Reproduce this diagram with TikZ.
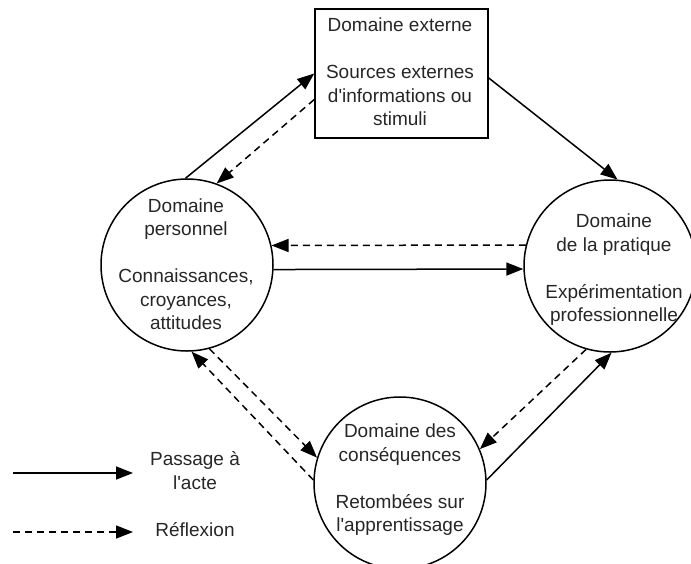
\documentclass[tikz,border=0pt]{standalone}
\usepackage{fontspec}
\setmainfont{Liberation Sans}[Ligatures=TeXOff]
\usetikzlibrary{arrows.meta,calc}
\begin{document}
\begin{tikzpicture}[x=1pt,y=-1pt,
  dom/.style={circle, draw, line width=1.5pt, minimum size=172pt, inner sep=0pt},
  lbl/.style={align=center, text=black!85, font=\fontsize{19}{23.5}\selectfont, inner sep=0pt},
  act/.style={line width=1.5pt, -{Triangle[length=17pt,width=13pt]}},
  refl/.style={act, dash pattern=on 7pt off 5pt},
]
\useasboundingbox (0,0) rectangle (691,563);

% domains
\node[draw, line width=1.5pt, minimum width=173pt, minimum height=129pt, inner sep=0pt] (ext) at (401.5,73.5) {};
\node[dom] (perso) at (187,265) {};
\node[dom] (prat) at (610,266) {};
\node[dom] (cons) at (400,483) {};

% texts
\node[lbl] (ext-t) at (400,72) {Domaine externe\\[23.5pt]Sources externes\\d'informations ou\\stimuli};
\node[lbl] (perso-t) at (186,264) {Domaine\\personnel\\[23.5pt]Connaissances,\\croyances,\\attitudes};
\node[lbl] (prat-t) at (614,270) {Domaine\\de la pratique\\[23.5pt]Expérimentation\\professionnelle};
\node[lbl] (cons-t) at (400,480) {Domaine des\\conséquences\\[23.5pt]Retombées sur\\l'apprentissage};

% connectors
\draw[act]  (perso.91) -- (ext.west);
\draw[refl] ($(ext.west)+(0,26)$) -- (perso.70);
\draw[act]  ($(ext.east)+(0,4.5)$) -- (prat.85);
\draw[refl] (prat.166) -- (perso.13);
\draw[act]  (perso.-3) -- (prat.182);
\draw[refl] (prat.-106) -- (cons.23.5);
\draw[act]  (cons.2) -- (prat.-89);
\draw[refl] (perso.-75) -- (cons.163);
\draw[refl] (cons.178) -- (perso.-87);

% legend
\coordinate (lg1a) at (13,473);
\coordinate (lg1b) at (133,473);
\coordinate (lg2a) at (13,532);
\coordinate (lg2b) at (133,532);
\draw[act]  (lg1a) -- (lg1b);
\draw[refl] (lg2a) -- (lg2b);
\node[lbl] (lg1-t) at (195,470.5) {Passage à\\l'acte};
\node[lbl] (lg2-t) at (195,530) {Réflexion};
\end{tikzpicture}
\end{document}
